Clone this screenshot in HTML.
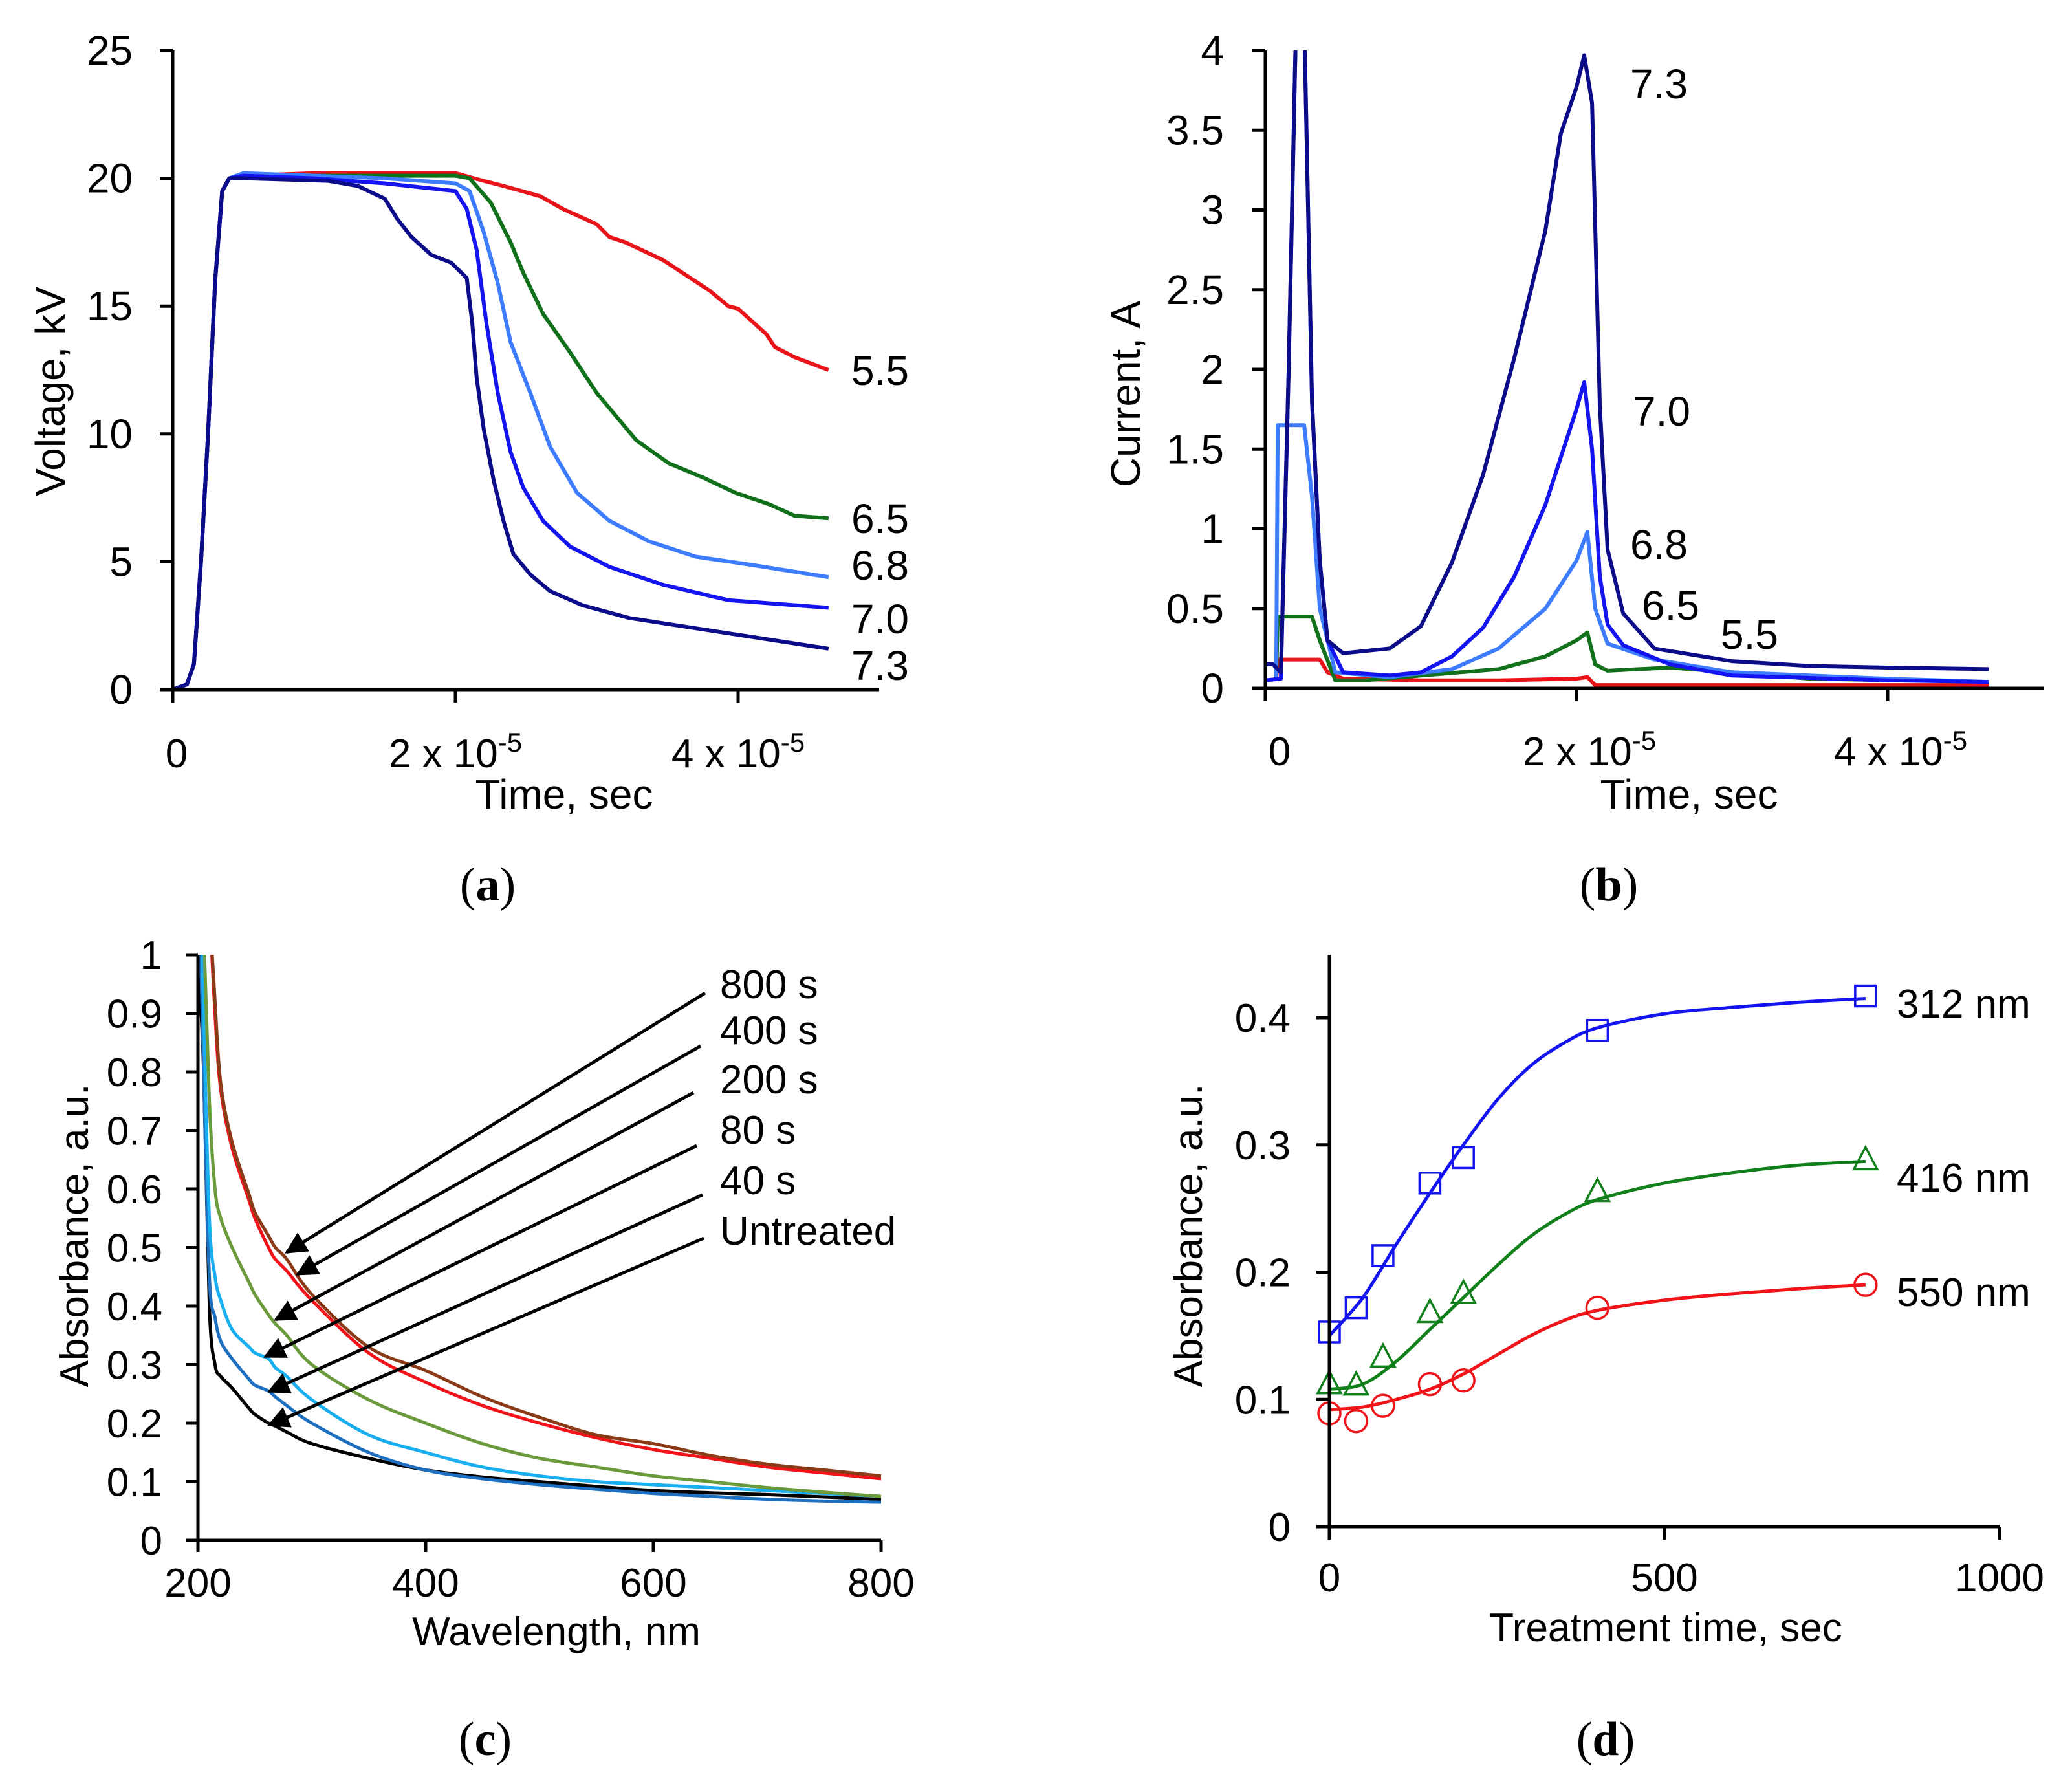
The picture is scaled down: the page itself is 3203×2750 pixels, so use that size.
<!DOCTYPE html>
<html><head><meta charset="utf-8"><style>
html,body{margin:0;padding:0;background:#fff}
svg{display:block}
text{font-family:"Liberation Sans",Arial,sans-serif;fill:#000}
.cap{font-family:"Liberation Serif",serif}
</style></head><body>
<svg id="fig" width="3203" height="2750" viewBox="0 0 3203 2750" xmlns="http://www.w3.org/2000/svg"></svg>
<script>
// ---------- Panel (a) data: time (x1e-5 s), voltage (kV) ----------
const aRiseT=[0,0.1,0.15,0.2,0.25,0.3,0.35,0.4];
const aRiseV=[0,0.2,1,5,10,16,19.5,20];
const a55T=[0.5,1.0,1.5,1.9,2.0,2.2,2.34,2.6,2.76,3.0,3.09,3.2,3.47,3.8,3.93,4.0,4.2,4.26,4.4,4.64];
const a55V=[20.1,20.2,20.2,20.2,20.2,19.9,19.7,19.3,18.8,18.2,17.7,17.5,16.8,15.6,15,14.9,13.9,13.4,13.0,12.5];
const a65T=[0.5,1.0,1.5,2.0,2.1,2.25,2.39,2.48,2.62,2.81,3.0,3.28,3.51,3.75,3.98,4.22,4.4,4.64];
const a65V=[20.1,20.1,20.1,20.1,20,19.05,17.5,16.3,14.7,13.2,11.6,9.75,8.85,8.3,7.7,7.25,6.8,6.7];
const a68T=[0.5,1.0,1.5,2.0,2.1,2.2,2.3,2.39,2.53,2.67,2.86,3.09,3.37,3.7,4.07,4.64];
const a68V=[20.2,20.1,20.0,19.8,19.5,17.9,15.9,13.6,11.6,9.5,7.7,6.6,5.8,5.2,4.9,4.4];
const a70T=[0.5,1.0,1.5,2.0,2.08,2.15,2.22,2.3,2.39,2.48,2.62,2.81,3.09,3.47,3.93,4.64];
const a70V=[20.1,20.0,19.8,19.5,18.8,17.2,14.3,11.6,9.3,7.9,6.6,5.6,4.8,4.1,3.5,3.2];
const a73T=[0.5,1.1,1.31,1.5,1.59,1.69,1.83,1.97,2.08,2.12,2.15,2.2,2.27,2.34,2.41,2.53,2.67,2.9,3.23,3.7,4.17,4.64];
const a73V=[20.0,19.9,19.7,19.2,18.4,17.7,17.0,16.7,16.1,14.3,12.2,10.2,8.2,6.6,5.3,4.5,3.85,3.3,2.8,2.4,2.0,1.6];
const aYTicks=[0,5,10,15,20,25];
const aLabels=["5.5","6.5","6.8","7.0","7.3"];

// ---------- Panel (b) data: time (x1e-5 s), current (A) ----------
const b73T=[0,0.05,0.1,0.15,0.2,0.25,0.3,0.35,0.4,0.5,0.8,1.0,1.2,1.4,1.6,1.8,1.9,2.0,2.05,2.1,2.15,2.2,2.3,2.5,3.0,3.5,4.0,4.65];
const b73I=[0.15,0.15,0.1,2.0,4.3,4.2,1.8,0.8,0.3,0.22,0.25,0.39,0.79,1.34,2.07,2.87,3.48,3.77,3.97,3.67,1.77,0.87,0.47,0.25,0.17,0.14,0.13,0.12];
const b70T=[0,0.1,0.15,0.2,0.25,0.3,0.35,0.4,0.5,0.8,1.0,1.2,1.4,1.6,1.8,1.9,2.0,2.05,2.1,2.15,2.2,2.3,2.6,3.0,4.0,4.65];
const b70I=[0.05,0.06,2.0,4.3,4.2,1.8,0.8,0.3,0.1,0.08,0.1,0.2,0.38,0.7,1.15,1.45,1.75,1.92,1.5,0.7,0.4,0.27,0.15,0.08,0.05,0.04];
const b68T=[0.07,0.08,0.25,0.3,0.35,0.45,0.8,1.2,1.5,1.8,2.0,2.07,2.12,2.2,2.5,3.0,4.0,4.65];
const b68I=[0.05,1.65,1.65,1.2,0.5,0.1,0.07,0.12,0.25,0.5,0.8,0.98,0.5,0.28,0.18,0.1,0.06,0.04];
const b65T=[0.07,0.08,0.3,0.35,0.45,0.64,1.0,1.5,1.8,2.0,2.07,2.12,2.2,2.6,3.0,3.5,4.65];
const b65I=[0.05,0.45,0.45,0.3,0.05,0.05,0.08,0.12,0.2,0.3,0.35,0.15,0.11,0.13,0.1,0.06,0.04];
const b55T=[0.07,0.08,0.35,0.4,0.5,1.0,1.5,2.0,2.07,2.12,3.0,4.65];
const b55I=[0.05,0.18,0.18,0.1,0.06,0.05,0.05,0.06,0.07,0.02,0.02,0.02];
const bYTicks=[0,0.5,1,1.5,2,2.5,3,3.5,4];
const bYTickLabels=["0","0.5","1","1.5","2","2.5","3","3.5","4"];
const bLabels=["7.3","7.0","6.8","6.5","5.5"];

// ---------- Panel (c) data: wavelength (nm), absorbance ----------
const cWl=[200,205,210,215,220,230,245,250,262,268,278,300,350,400,450,500,550,600,650,700,750,800];
const c800=[1.6,1.4,1.1,0.92,0.78,0.68,0.59,0.56,0.52,0.5,0.48,0.42,0.33,0.29,0.245,0.21,0.18,0.165,0.145,0.13,0.12,0.11];
const c400=[1.6,1.4,1.1,0.9,0.77,0.67,0.58,0.55,0.5,0.48,0.46,0.41,0.32,0.27,0.23,0.20,0.175,0.155,0.14,0.125,0.115,0.105];
const c200=[1.4,1.05,0.75,0.6,0.55,0.5,0.44,0.42,0.385,0.37,0.35,0.3,0.24,0.2,0.165,0.14,0.125,0.11,0.1,0.09,0.082,0.075];
const c80=[1.3,0.9,0.55,0.45,0.41,0.36,0.33,0.32,0.31,0.295,0.28,0.24,0.18,0.15,0.125,0.11,0.1,0.095,0.09,0.085,0.08,0.075];
const c40=[1.2,0.8,0.45,0.38,0.34,0.31,0.275,0.265,0.255,0.245,0.23,0.2,0.15,0.12,0.105,0.095,0.087,0.08,0.075,0.07,0.067,0.065];
const cUn=[1.0,0.8,0.4,0.3,0.28,0.26,0.225,0.215,0.2,0.195,0.185,0.165,0.14,0.12,0.108,0.1,0.092,0.085,0.081,0.078,0.074,0.07];
const cYTicks=[0,0.1,0.2,0.3,0.4,0.5,0.6,0.7,0.8,0.9,1];
const cYTickLabels=["0","0.1","0.2","0.3","0.4","0.5","0.6","0.7","0.8","0.9","1"];
const cXTicks=[200,400,600,800];
const cLegend=["800 s","400 s","200 s","80 s","40 s","Untreated"];

// ---------- Panel (d) data: treatment time (s), absorbance ----------
const dT=[0,40,80,150,200,400,800];
const d312=[0.153,0.172,0.213,0.27,0.29,0.39,0.417];
const d416=[0.112,0.111,0.133,0.168,0.183,0.263,0.288];
const d550=[0.089,0.083,0.095,0.112,0.115,0.172,0.19];
const dFitT=[0,50,100,150,200,250,300,350,400,500,600,700,800];
const dFit312=[0.15,0.18,0.222,0.262,0.3,0.335,0.362,0.38,0.392,0.403,0.408,0.412,0.415];
const dFit416=[0.108,0.112,0.13,0.155,0.18,0.205,0.228,0.245,0.257,0.27,0.278,0.284,0.287];
const dFit550=[0.092,0.094,0.1,0.108,0.12,0.135,0.15,0.162,0.17,0.178,0.183,0.187,0.19];
const dYTicks=[0,0.1,0.2,0.3,0.4];
const dYTickLabels=["0","0.1","0.2","0.3","0.4"];
const dXTicks=[0,500,1000];
const dLabels=["312 nm","416 nm","550 nm"];

const NS="http://www.w3.org/2000/svg";
const svg=document.getElementById('fig');
function el(tag,attrs,parent){const e=document.createElementNS(NS,tag);for(const k in attrs)e.setAttribute(k,attrs[k]);(parent||svg).appendChild(e);return e;}
function txt(x,y,s,size,anchor,parent,extra){const t=el('text',Object.assign({x:x,y:y,'font-size':size,'text-anchor':anchor||'middle'},extra||{}),parent);t.textContent=s;return t;}
function pathFrom(xs,ys,sx,sy){let d='';for(let i=0;i<xs.length;i++){d+=(i?'L':'M')+sx(xs[i]).toFixed(1)+','+sy(ys[i]).toFixed(1);}return d;}
function smoothPath(xs,ys,sx,sy){const P=xs.map((x,i)=>[sx(x),sy(ys[i])]);let d='M'+P[0][0]+','+P[0][1];for(let i=0;i<P.length-1;i++){const p0=P[i-1]||P[i],p1=P[i],p2=P[i+1],p3=P[i+2]||P[i+1];const c1=[p1[0]+(p2[0]-p0[0])/6,p1[1]+(p2[1]-p0[1])/6],c2=[p2[0]-(p3[0]-p1[0])/6,p2[1]-(p3[1]-p1[1])/6];d+='C'+c1.join(',')+' '+c2.join(',')+' '+p2.join(',');}return d;}
function timeLabel(x,y,mant,g){const t=el('text',{x:x,y:y,'font-size':62,'text-anchor':'middle'},g);const a=el('tspan',{},t);a.textContent=mant+' x 10';const b=el('tspan',{dy:-24,'font-size':42},t);b.textContent='-5';return t;}

// ================= Panel A =================
const gA=el('g',{});


const axA={x0:267,y0:1066,yTop:78,xEnd:1359};
const ax=t=>axA.x0+t*218.5;
const ay=v=>axA.y0-v*(axA.y0-axA.yTop)/25;
const serA=[[a55T,a55V,'#e8141a','series-5-5kv'],[a65T,a65V,'#11701a','series-6-5kv'],[a68T,a68V,'#3d7cff','series-6-8kv'],[a70T,a70V,'#1414f0','series-7-0kv'],[a73T,a73V,'#0c0c8a','series-7-3kv']];
serA.forEach(s=>{const T=aRiseT.concat(s[0]),V=aRiseV.concat(s[1]);const p=el('path',{d:pathFrom(T,V,ax,ay),fill:'none',stroke:s[2],'stroke-width':6,'stroke-linejoin':'round'},gA);

});
const aAxis=el('path',{d:`M${axA.x0},${axA.yTop}V${axA.y0}H${axA.xEnd}`,fill:'none',stroke:'#000','stroke-width':5},gA);


aYTicks.forEach(v=>{el('line',{x1:axA.x0-20,x2:axA.x0,y1:ay(v),y2:ay(v),stroke:'#000','stroke-width':5},gA);const t=txt(205,ay(v)+22,String(v),64,'end',gA);

});
[0,2,4].forEach(v=>{el('line',{x1:ax(v),x2:ax(v),y1:axA.y0,y2:axA.y0+20,stroke:'#000','stroke-width':5},gA);});
txt(ax(0)+6,1186,'0',62,'middle',gA);
timeLabel(ax(2),1186,'2',gA);timeLabel(ax(4),1186,'4',gA);
const aXT=txt(872,1250,'Time, sec',64,'middle',gA);


const aYT=txt(0,0,'Voltage, kV',64,'middle',gA,{transform:'translate(100,605) rotate(-90)'});


const aLy=[573,802,874,957,1029];
aLabels.forEach((s,i)=>{const t=txt(1316,aLy[i]+22,s,64,'start',gA);

});
const capA=el('text',{x:754,y:1392,'font-size':74,'text-anchor':'middle',class:'cap'},gA);capA.innerHTML='(<tspan font-weight="bold">a</tspan>)';



// ================= Panel B =================
const gB=el('g',{});


const axB={x0:1956,y0:1064,yTop:78,xEnd:3160};
const bx=t=>axB.x0+t*240.5;
const by=v=>axB.y0-v*(axB.y0-axB.yTop)/4;
const cpB=el('clipPath',{id:'clipB'},gB);el('rect',{x:axB.x0,y:axB.yTop,width:1300,height:1000},cpB);
const serB=[[b55T,b55I,'#e8141a','series-5-5'],[b65T,b65I,'#11701a','series-6-5'],[b68T,b68I,'#3d7cff','series-6-8'],[b70T,b70I,'#1414f0','series-7-0'],[b73T,b73I,'#0c0c8a','series-7-3']];
serB.forEach(s=>{const p=el('path',{d:pathFrom(s[0],s[1],bx,by),fill:'none',stroke:s[2],'stroke-width':6,'stroke-linejoin':'round','clip-path':'url(#clipB)'},gB);

});
const bAxis=el('path',{d:`M${axB.x0},${axB.yTop}V${axB.y0}H${axB.xEnd}`,fill:'none',stroke:'#000','stroke-width':5},gB);


bYTicks.forEach((v,i)=>{el('line',{x1:axB.x0-20,x2:axB.x0,y1:by(v),y2:by(v),stroke:'#000','stroke-width':5},gB);const t=txt(1892,by(v)+22,bYTickLabels[i],64,'end',gB);

});
[0,2,4].forEach(v=>{el('line',{x1:bx(v),x2:bx(v),y1:axB.y0,y2:axB.y0+20,stroke:'#000','stroke-width':5},gB);});
txt(bx(0)+22,1183,'0',62,'middle',gB);
timeLabel(bx(2)+20,1183,'2',gB);timeLabel(bx(4)+20,1183,'4',gB);
const bXT=txt(2611,1250,'Time, sec',64,'middle',gB);


const bYT=txt(0,0,'Current, A',64,'middle',gB,{transform:'translate(1762,609) rotate(-90)'});


const bLx=[2520,2524,2520,2538,2660],bLy=[130,636,842,936,981];
bLabels.forEach((s,i)=>{const t=txt(bLx[i],bLy[i]+22,s,64,'start',gB);

});
const capB=el('text',{x:2487,y:1392,'font-size':74,'text-anchor':'middle',class:'cap'},gB);capB.innerHTML='(<tspan font-weight="bold">b</tspan>)';



// ================= Panel C =================
const gC=el('g',{});


const axC={x0:306,x1:1362,y0:2381,yTop:1476};
const cx=w=>axC.x0+(w-200)*(axC.x1-axC.x0)/600;
const cy=v=>axC.y0-v*(axC.y0-axC.yTop);
const cc=el('clipPath',{id:'clipC'},gC);el('rect',{x:axC.x0,y:axC.yTop,width:1100,height:920},cc);
const serC=[[cUn,'#000000','spectrum-untreated'],[c40,'#1f6fc0','spectrum-40s'],[c80,'#18aef0','spectrum-80s'],[c200,'#6a9a3c','spectrum-200s'],[c400,'#f0141a','spectrum-400s'],[c800,'#8b3b17','spectrum-800s']];
serC.forEach(s=>{const p=el('path',{d:smoothPath(cWl,s[0],cx,cy),fill:'none',stroke:s[1],'stroke-width':5,'clip-path':'url(#clipC)'},gC);

});
const cAxis=el('path',{d:`M${axC.x0},${axC.yTop}V${axC.y0}H${axC.x1}`,fill:'none',stroke:'#000','stroke-width':5},gC);


cYTicks.forEach((v,i)=>{el('line',{x1:axC.x0-18,x2:axC.x0,y1:cy(v),y2:cy(v),stroke:'#000','stroke-width':5},gC);const t=txt(251,cy(v)+22,cYTickLabels[i],62,'end',gC);

});
cXTicks.forEach(v=>{el('line',{x1:cx(v),x2:cx(v),y1:axC.y0,y2:axC.y0+18,stroke:'#000','stroke-width':5},gC);const t=txt(cx(v),2468,String(v),62,'middle',gC);

});
const cXT=txt(860,2543,'Wavelength, nm',62,'middle',gC);


const cYT=txt(0,0,'Absorbance, a.u.',62,'middle',gC,{transform:'translate(136,1910) rotate(-90)'});


// annotation arrows (pixel-positioned callouts)
const arrStart=[[1090,1535],[1083,1617],[1072,1689],[1077,1771],[1086,1847],[1088,1914]];
const arrEnd=[[443,1936],[460,1970],[426,2040],[410,2097],[416,2151],[416,2203]];
const cLy=[1521,1592,1668,1746,1824,1902];
const defs=el('defs',{},gC);const mk=el('marker',{id:'arrow',markerWidth:40,markerHeight:34,refX:9,refY:5,orient:'auto',markerUnits:'userSpaceOnUse',viewBox:'0 0 10 10'},defs);
el('path',{d:'M0,0L10,5L0,10Z',fill:'#000'},mk);
cLegend.forEach((s,i)=>{const l=el('line',{x1:arrStart[i][0],y1:arrStart[i][1],x2:arrEnd[i][0],y2:arrEnd[i][1],stroke:'#000','stroke-width':5,'marker-end':'url(#arrow)'},gC);


const t=txt(1113,cLy[i]+22,s,62,'start',gC);

});
const capC=el('text',{x:750,y:2713,'font-size':74,'text-anchor':'middle',class:'cap'},gC);capC.innerHTML='(<tspan font-weight="bold">c</tspan>)';



// ================= Panel D =================
const gD=el('g',{});


const axD={x0:2055,x1:3091,y0:2360,yTop:1476};
const dx=t=>axD.x0+t*(axD.x1-axD.x0)/1000;
const dy=v=>axD.y0-v*(2360-1573)/0.4;
const serD=[[dFit312,d312,'#1414f0','square','312nm'],[dFit416,d416,'#11801a','triangle','416nm'],[dFit550,d550,'#f0141a','circle','550nm']];
serD.forEach(s=>{const p=el('path',{d:smoothPath(dFitT,s[0],dx,dy),fill:'none',stroke:s[2],'stroke-width':5},gD);


dT.forEach((t,i)=>{const X=dx(t),Y=dy(s[1][i]);let m;
if(s[3]==='square')m=el('rect',{x:X-16,y:Y-16,width:32,height:32,fill:'none',stroke:s[2],'stroke-width':3.5},gD);
else if(s[3]==='triangle')m=el('path',{d:`M${X},${Y-20}L${X+18},${Y+14}L${X-18},${Y+14}Z`,fill:'none',stroke:s[2],'stroke-width':3.5},gD);
else m=el('circle',{cx:X,cy:Y,r:17,fill:'none',stroke:s[2],'stroke-width':3.5},gD);

});});
const dAxis=el('path',{d:`M${axD.x0},${axD.yTop}V${axD.y0}H${axD.x1}`,fill:'none',stroke:'#000','stroke-width':5},gD);


dYTicks.forEach((v,i)=>{el('line',{x1:axD.x0-20,x2:axD.x0,y1:dy(v),y2:dy(v),stroke:'#000','stroke-width':5},gD);const t=txt(1995,dy(v)+22,dYTickLabels[i],62,'end',gD);

});
dXTicks.forEach(v=>{el('line',{x1:dx(v),x2:dx(v),y1:axD.y0,y2:axD.y0+20,stroke:'#000','stroke-width':5},gD);const t=txt(dx(v),2460,String(v),62,'middle',gD);

});
const dXT=txt(2575,2537,'Treatment time, sec',62,'middle',gD);


const dYT=txt(0,0,'Absorbance, a.u.',62,'middle',gD,{transform:'translate(1858,1910) rotate(-90)'});


const dLy=[1551,1820,1997];
dLabels.forEach((s,i)=>{const t=txt(2932,dLy[i]+22,s,62,'start',gD);

});
const capD=el('text',{x:2482,y:2713,'font-size':74,'text-anchor':'middle',class:'cap'},gD);capD.innerHTML='(<tspan font-weight="bold">d</tspan>)';


</script>
</body></html>
